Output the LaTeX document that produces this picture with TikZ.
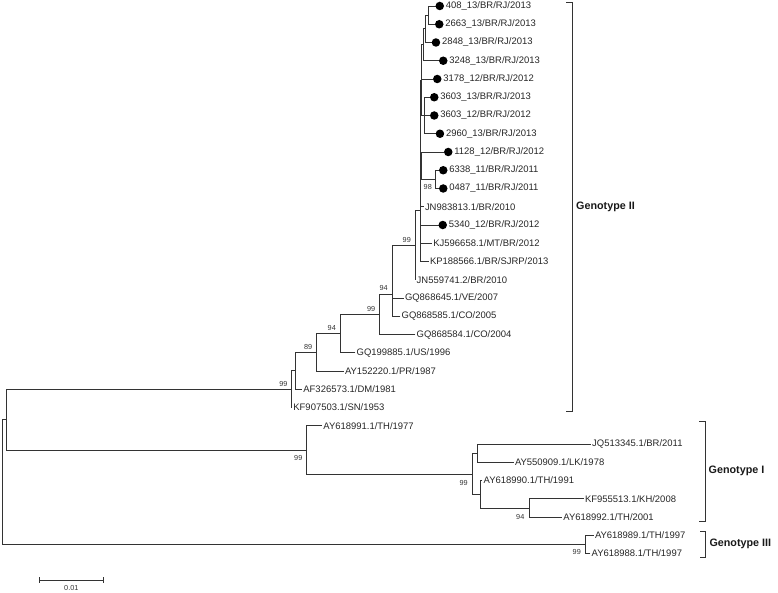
\documentclass[tikz,border=0pt]{standalone}
\usepackage{fontspec}
\setmainfont{Liberation Sans}
\begin{document}
\begin{tikzpicture}[x=1bp,y=-1bp,
  br/.style={line width=0.8bp, draw=black!80, line cap=rect},
  leaflab/.style={anchor=west, inner sep=1.5bp, font=\fontsize{9.5}{11}\selectfont, text=black!85},
  bootlab/.style={inner sep=0bp, font=\fontsize{7.3}{8}\selectfont, text=black!80},
  tipdot/.style={circle, fill=black, inner sep=0pt, minimum size=8.5bp},
  geno/.style={anchor=west, inner sep=0pt, font=\bfseries\fontsize{10.8}{12}\selectfont, text=black!90}]
\useasboundingbox (0,0) rectangle (778,593);
% ---------- internal nodes ----------
\coordinate (n1) at (428.3,15.1);
\coordinate (n2) at (425.3,28.8);
\coordinate (n3) at (423.3,44.8);
\coordinate (n4) at (424.5,115.5);
\coordinate (n5) at (421.5,80);
\coordinate (n7) at (435,179.4);
\coordinate (n6) at (421.7,165.7);
\coordinate (nA) at (420,210);
\coordinate (n99a) at (415,245);
\coordinate (n94a) at (392.3,294);
\coordinate (n99b) at (379.3,314.25);
\coordinate (n94b) at (340,333.5);
\coordinate (n89) at (316.3,352.25);
\coordinate (nX) at (295,370.75);
\coordinate (nGII) at (291.7,389.1);
\coordinate (nTop) at (6.7,419.5);
\coordinate (nGI) at (306,450);
\coordinate (nGIa) at (472.3,474);
\coordinate (nGIb) at (477.7,453.1);
\coordinate (nGIc) at (480,494.2);
\coordinate (n94c) at (529,507.9);
\coordinate (nGIII) at (585,544.4);
\coordinate (root) at (2.3,482);
% ---------- leaf tips ----------
\coordinate (l0) at (435.5,6);
\coordinate (l1) at (435,24.25);
\coordinate (l2) at (431.7,42.5);
\coordinate (l3) at (439,60.75);
\coordinate (l4) at (433,79);
\coordinate (l5) at (430,97.25);
\coordinate (l6) at (430,115.5);
\coordinate (l7) at (435.7,133.75);
\coordinate (l8) at (444,152);
\coordinate (l9) at (439,170.25);
\coordinate (l10) at (439,188.5);
\coordinate (l11) at (423.3,206.75);
\coordinate (l12) at (438.5,225);
\coordinate (l13) at (431.7,243.25);
\coordinate (l14) at (428.3,261.5);
\coordinate (l15) at (415,279.75);
\coordinate (l16) at (403.3,298);
\coordinate (l17) at (400,316.25);
\coordinate (l18) at (415,334.5);
\coordinate (l19) at (355,352.75);
\coordinate (l20) at (343.3,371);
\coordinate (l21) at (301.7,389.25);
\coordinate (l22) at (291.7,407.5);
\coordinate (l23) at (321.7,425.75);
\coordinate (l24) at (590.5,444);
\coordinate (l25) at (513.3,462.25);
\coordinate (l26) at (482,480.5);
\coordinate (l27) at (583.3,498.75);
\coordinate (l28) at (561.7,517);
\coordinate (l29) at (593.3,535.25);
\coordinate (l30) at (590,553.5);
% ---------- branches ----------
\draw[br] (n1) |- (l0);  \draw[br] (n1) |- (l1);
\draw[br] (n2) |- (n1);  \draw[br] (n2) |- (l2);
\draw[br] (n3) |- (n2);  \draw[br] (n3) |- (l3);
\draw[br] (n4) |- (l5);  \draw[br] (n4) |- (l6);  \draw[br] (n4) |- (l7);
\draw[br] (n5) |- (n3);  \draw[br] (n5) |- (l4);  \draw[br] (n5) |- (n4);
\draw[br] (n7) |- (l9);  \draw[br] (n7) |- (l10);
\draw[br] (n6) |- (l8);  \draw[br] (n6) |- (n7);
\draw[br] (nA) |- (n5);  \draw[br] (nA) |- (n6);  \draw[br] (nA) |- (l11);
\draw[br] (nA) |- (l12); \draw[br] (nA) |- (l13); \draw[br] (nA) |- (l14);
\draw[br] (n99a) |- (nA); \draw[br] (n99a) |- (l15);
\draw[br] (n94a) |- (n99a); \draw[br] (n94a) |- (l16); \draw[br] (n94a) |- (l17);
\draw[br] (n99b) |- (n94a); \draw[br] (n99b) |- (l18);
\draw[br] (n94b) |- (n99b); \draw[br] (n94b) |- (l19);
\draw[br] (n89) |- (n94b); \draw[br] (n89) |- (l20);
\draw[br] (nX) |- (n89); \draw[br] (nX) |- (l21);
\draw[br] (nGII) |- (nX); \draw[br] (nGII) |- (l22);
\draw[br] (nTop) |- (nGII); \draw[br] (nTop) |- (nGI);
\draw[br] (nGI) |- (l23); \draw[br] (nGI) |- (nGIa);
\draw[br] (nGIa) |- (nGIb); \draw[br] (nGIa) |- (nGIc);
\draw[br] (nGIb) |- (l24); \draw[br] (nGIb) |- (l25);
\draw[br] (nGIc) |- (l26); \draw[br] (nGIc) |- (n94c);
\draw[br] (n94c) |- (l27); \draw[br] (n94c) |- (l28);
\draw[br] (nGIII) |- (l29); \draw[br] (nGIII) |- (l30);
\draw[br] (root) |- (nTop); \draw[br] (root) |- (nGIII);
% ---------- dots ----------
\node[tipdot] (d0) at ([shift={(4.25,0)}]l0) {};
\node[tipdot] (d1) at ([shift={(4.25,0)}]l1) {};
\node[tipdot] (d2) at ([shift={(4.25,0)}]l2) {};
\node[tipdot] (d3) at ([shift={(4.25,0)}]l3) {};
\node[tipdot] (d4) at ([shift={(4.25,0)}]l4) {};
\node[tipdot] (d5) at ([shift={(4.25,0)}]l5) {};
\node[tipdot] (d6) at ([shift={(4.25,0)}]l6) {};
\node[tipdot] (d7) at ([shift={(4.25,0)}]l7) {};
\node[tipdot] (d8) at ([shift={(4.25,0)}]l8) {};
\node[tipdot] (d9) at ([shift={(4.25,0)}]l9) {};
\node[tipdot] (d10) at ([shift={(4.25,0)}]l10) {};
\node[tipdot] (d12) at ([shift={(4.25,0)}]l12) {};
% ---------- leaf labels ----------
\node[leaflab] (t0) at (d0.east) {408\_13/BR/RJ/2013};
\node[leaflab] (t1) at (d1.east) {2663\_13/BR/RJ/2013};
\node[leaflab] (t2) at (d2.east) {2848\_13/BR/RJ/2013};
\node[leaflab] (t3) at (d3.east) {3248\_13/BR/RJ/2013};
\node[leaflab] (t4) at (d4.east) {3178\_12/BR/RJ/2012};
\node[leaflab] (t5) at (d5.east) {3603\_13/BR/RJ/2013};
\node[leaflab] (t6) at (d6.east) {3603\_12/BR/RJ/2012};
\node[leaflab] (t7) at (d7.east) {2960\_13/BR/RJ/2013};
\node[leaflab] (t8) at (d8.east) {1128\_12/BR/RJ/2012};
\node[leaflab] (t9) at (d9.east) {6338\_11/BR/RJ/2011};
\node[leaflab] (t10) at (d10.east) {0487\_11/BR/RJ/2011};
\node[leaflab] (t11) at (l11) {JN983813.1/BR/2010};
\node[leaflab] (t12) at (d12.east) {5340\_12/BR/RJ/2012};
\node[leaflab] (t13) at (l13) {KJ596658.1/MT/BR/2012};
\node[leaflab] (t14) at (l14) {KP188566.1/BR/SJRP/2013};
\node[leaflab] (t15) at (l15) {JN559741.2/BR/2010};
\node[leaflab] (t16) at (l16) {GQ868645.1/VE/2007};
\node[leaflab] (t17) at (l17) {GQ868585.1/CO/2005};
\node[leaflab] (t18) at (l18) {GQ868584.1/CO/2004};
\node[leaflab] (t19) at (l19) {GQ199885.1/US/1996};
\node[leaflab] (t20) at (l20) {AY152220.1/PR/1987};
\node[leaflab] (t21) at (l21) {AF326573.1/DM/1981};
\node[leaflab] (t22) at (l22) {KF907503.1/SN/1953};
\node[leaflab] (t23) at (l23) {AY618991.1/TH/1977};
\node[leaflab] (t24) at (l24) {JQ513345.1/BR/2011};
\node[leaflab] (t25) at (l25) {AY550909.1/LK/1978};
\node[leaflab] (t26) at (l26) {AY618990.1/TH/1991};
\node[leaflab] (t27) at (l27) {KF955513.1/KH/2008};
\node[leaflab] (t28) at (l28) {AY618992.1/TH/2001};
\node[leaflab] (t29) at (l29) {AY618989.1/TH/1997};
\node[leaflab] (t30) at (l30) {AY618988.1/TH/1997};
% ---------- bootstrap values ----------
\node[bootlab, anchor=north east] (b98) at ([shift={(-3,4.5)}]n7) {98};
\node[bootlab, anchor=south east] (b99a) at ([shift={(-4,-2.5)}]n99a) {99};
\node[bootlab, anchor=south east] (b94a) at ([shift={(-4.5,-3)}]n94a) {94};
\node[bootlab, anchor=south east] (b99b) at ([shift={(-4,-2.5)}]n99b) {99};
\node[bootlab, anchor=south east] (b94b) at ([shift={(-4,-2.5)}]n94b) {94};
\node[bootlab, anchor=south east] (b89) at ([shift={(-4,-2.5)}]n89) {89};
\node[bootlab, anchor=south east] (b99c) at ([shift={(-4,-2.5)}]nGII) {99};
\node[bootlab, anchor=north east] (b99d) at ([shift={(-3.5,5)}]nGI) {99};
\node[bootlab, anchor=north east] (b99e) at ([shift={(-4.5,6)}]nGIa) {99};
\node[bootlab, anchor=north east] (b94c) at ([shift={(-4.5,6)}]n94c) {94};
\node[bootlab, anchor=north east] (b99f) at ([shift={(-4,5)}]nGIII) {99};
% ---------- scale bar ----------
\coordinate (s1) at (39.3,580);
\coordinate (s2) at (103.3,580);
\coordinate (s1a) at (39.3,577.2);
\coordinate (s1b) at (39.3,582.8);
\coordinate (s2a) at (103.3,577.2);
\coordinate (s2b) at (103.3,582.8);
\draw[br] (s1) -- (s2);
\draw[br] (s1a) -- (s1b);
\draw[br] (s2a) -- (s2b);
\node[bootlab, anchor=north] (sl) at (71.3,585.5) {0.01};
% ---------- genotype brackets ----------
\coordinate (g2a) at (566.7,2.7);  \coordinate (g2b) at (572.3,2.7);
\coordinate (g2c) at (572.3,411.7); \coordinate (g2d) at (566.7,411.7);
\draw[br] (g2a) -- (g2b) -- (g2c) -- (g2d);
\node[geno] (G2) at (576,206.7) {Genotype II};
\coordinate (g1a) at (699.3,421.7); \coordinate (g1b) at (705.7,421.7);
\coordinate (g1c) at (705.7,521.7); \coordinate (g1d) at (699.3,521.7);
\draw[br] (g1a) -- (g1b) -- (g1c) -- (g1d);
\node[geno] (G1) at (708.5,471) {Genotype I};
\coordinate (g3a) at (700,531.7); \coordinate (g3b) at (705.7,531.7);
\coordinate (g3c) at (705.7,557.7); \coordinate (g3d) at (700,557.7);
\draw[br] (g3a) -- (g3b) -- (g3c) -- (g3d);
\node[geno] (G3) at (709.3,544.3) {Genotype III};
\end{tikzpicture}
\end{document}
